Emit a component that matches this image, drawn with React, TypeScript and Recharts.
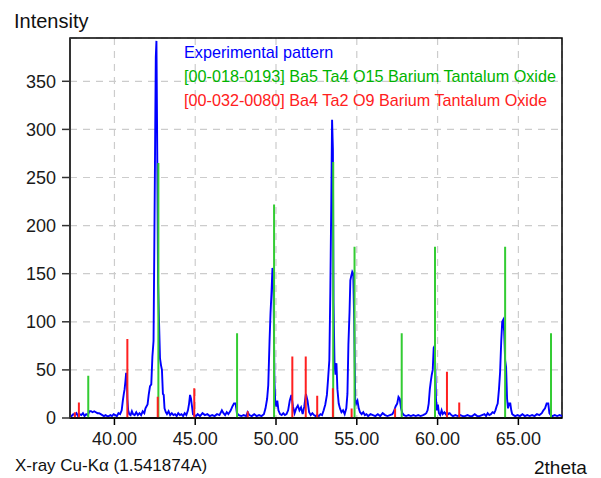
import React from 'react';
import { ComposedChart, Line, XAxis, YAxis, CartesianGrid, ReferenceArea } from 'recharts';

const xTicks = [40, 45, 50, 55, 60, 65];
const yTicks = [0, 50, 100, 150, 200, 250, 300, 350];
const xDomain: [number, number] = [37.25, 67.7];
const yDomain: [number, number] = [0, 395];

const seriesNames = [
  'Experimental pattern',
  '[00-018-0193] Ba5 Ta4 O15 Barium Tantalum Oxide',
  '[00-032-0080] Ba4 Ta2 O9 Barium Tantalum Oxide',
];

// [2theta, intensity]
const experimentalPattern: [number, number][] = [
  [37.25, 3], [37.35, 2], [37.45, 4], [37.55, 3], [37.65, 5], [37.75, 2], [37.85, 4], [37.95, 3],
  [38.05, 5], [38.15, 2], [38.25, 4], [38.35, 3], [38.45, 7], [38.55, 7], [38.65, 6], [38.75, 7],
  [38.85, 6], [38.95, 5], [39.05, 5], [39.15, 4], [39.25, 3], [39.35, 2], [39.45, 3], [39.55, 2],
  [39.65, 2], [39.75, 3], [39.85, 2], [39.95, 4], [40.05, 3], [40.15, 2], [40.25, 5], [40.35, 4],
  [40.45, 8], [40.52, 18], [40.58, 25], [40.63, 30], [40.68, 38], [40.72, 46], [40.76, 46], [40.8, 20],
  [40.85, 8], [40.92, 4], [41.0, 3], [41.08, 7], [41.15, 4], [41.25, 3], [41.35, 6], [41.45, 3],
  [41.55, 5], [41.65, 3], [41.75, 7], [41.85, 5], [41.92, 10], [41.98, 12], [42.05, 14], [42.12, 24],
  [42.2, 33], [42.28, 35], [42.35, 64], [42.42, 80], [42.47, 182], [42.52, 290], [42.56, 375], [42.6, 392],
  [42.64, 300], [42.7, 140], [42.76, 100], [42.82, 62], [42.88, 55], [42.94, 50], [43.0, 25], [43.05, 24],
  [43.1, 10], [43.18, 6], [43.25, 4], [43.35, 7], [43.45, 3], [43.55, 5], [43.65, 3], [43.75, 4],
  [43.85, 2], [43.95, 5], [44.05, 3], [44.15, 4], [44.25, 2], [44.35, 5], [44.45, 3], [44.55, 8],
  [44.62, 15], [44.68, 24], [44.74, 20], [44.8, 12], [44.86, 4], [44.95, 3], [45.05, 2], [45.15, 4],
  [45.3, 2], [45.45, 5], [45.6, 3], [45.75, 4], [45.9, 2], [46.05, 3], [46.2, 2], [46.35, 4],
  [46.5, 3], [46.65, 8], [46.75, 5], [46.85, 3], [46.95, 6], [47.05, 4], [47.2, 8], [47.3, 12],
  [47.4, 15], [47.5, 15], [47.58, 5], [47.7, 3], [47.85, 2], [48.0, 3], [48.15, 2], [48.25, 6],
  [48.35, 3], [48.5, 2], [48.65, 4], [48.8, 2], [48.95, 3], [49.1, 2], [49.25, 4], [49.35, 10],
  [49.45, 20], [49.52, 34], [49.6, 80], [49.66, 109], [49.72, 130], [49.78, 156], [49.84, 150], [49.9, 40],
  [49.95, 18], [50.02, 12], [50.08, 18], [50.15, 8], [50.25, 4], [50.35, 3], [50.45, 5], [50.55, 3],
  [50.65, 4], [50.75, 8], [50.85, 18], [50.95, 24], [51.05, 12], [51.15, 5], [51.25, 10], [51.35, 13],
  [51.45, 8], [51.55, 11], [51.65, 4], [51.75, 12], [51.85, 25], [51.95, 18], [52.05, 6], [52.15, 3],
  [52.25, 5], [52.35, 3], [52.45, 2], [52.55, 3], [52.65, 2], [52.75, 4], [52.85, 3], [52.95, 8],
  [53.05, 14], [53.15, 24], [53.22, 40], [53.3, 60], [53.36, 130], [53.42, 223], [53.47, 310], [53.52, 280],
  [53.56, 120], [53.62, 57], [53.68, 45], [53.74, 57], [53.8, 30], [53.88, 15], [53.96, 10], [54.05, 6],
  [54.15, 8], [54.25, 4], [54.35, 10], [54.42, 25], [54.48, 76], [54.55, 110], [54.6, 143], [54.66, 148],
  [54.72, 152], [54.78, 150], [54.84, 100], [54.9, 20], [54.96, 15], [55.04, 18], [55.12, 10], [55.2, 6],
  [55.3, 4], [55.4, 6], [55.5, 3], [55.6, 4], [55.7, 2], [55.85, 4], [56.0, 3], [56.15, 2],
  [56.3, 4], [56.45, 2], [56.6, 5], [56.75, 3], [56.9, 2], [57.05, 3], [57.2, 4], [57.3, 7],
  [57.4, 12], [57.5, 15], [57.58, 22], [57.66, 20], [57.74, 10], [57.82, 5], [57.92, 3], [58.05, 2],
  [58.2, 3], [58.35, 2], [58.5, 3], [58.65, 2], [58.8, 3], [58.95, 2], [59.1, 3], [59.22, 4],
  [59.3, 5], [59.38, 8], [59.45, 15], [59.52, 30], [59.58, 38], [59.64, 45], [59.7, 50], [59.76, 73],
  [59.82, 75], [59.86, 50], [59.9, 20], [59.96, 8], [60.02, 14], [60.08, 5], [60.16, 3], [60.25, 8],
  [60.32, 4], [60.42, 6], [60.5, 4], [60.58, 6], [60.66, 4], [60.75, 5], [60.85, 3], [60.95, 2],
  [61.1, 3], [61.25, 2], [61.4, 3], [61.55, 2], [61.7, 2], [61.85, 3], [62.0, 2], [62.15, 2],
  [62.3, 4], [62.45, 2], [62.6, 2], [62.75, 3], [62.9, 4], [63.0, 2], [63.1, 5], [63.2, 3],
  [63.3, 4], [63.4, 6], [63.5, 5], [63.58, 8], [63.65, 12], [63.72, 15], [63.8, 30], [63.87, 48],
  [63.94, 80], [64.0, 100], [64.06, 102], [64.12, 90], [64.18, 60], [64.24, 53], [64.3, 20], [64.36, 10],
  [64.42, 15], [64.5, 15], [64.56, 8], [64.62, 4], [64.7, 3], [64.8, 2], [64.95, 3], [65.1, 2],
  [65.25, 4], [65.4, 2], [65.55, 3], [65.7, 2], [65.85, 3], [66.0, 2], [66.15, 4], [66.3, 3],
  [66.45, 5], [66.55, 8], [66.65, 10], [66.75, 15], [66.85, 15], [66.92, 5], [67.0, 3], [67.1, 2],
  [67.25, 3], [67.4, 2], [67.55, 3], [67.7, 2],
];

// reference stick patterns [2theta, intensity]
const ba5ta4o15Sticks: [number, number][] = [
  [38.38, 44], [42.72, 265], [47.59, 88], [49.88, 222], [53.54, 266],
  [54.86, 178], [57.78, 88], [59.84, 178], [64.18, 178], [67.02, 88],
];
const ba4ta2o9Sticks: [number, number][] = [
  [37.55, 6], [37.8, 16], [40.8, 82], [42.68, 22], [44.94, 31], [48.25, 7], [51.01, 64],
  [51.84, 64], [52.55, 23], [53.52, 31], [54.68, 10], [57.37, 10], [60.58, 48], [61.34, 16],
];

const expData = experimentalPattern.map(([x, y]) => ({ x, y }));
const toSticks = (s: [number, number][]) =>
  s.flatMap(([x, h]) => [{ x, y: 0 }, { x, y: h }, { x, y: null as number | null }]);
const greenData = toSticks(ba5ta4o15Sticks);
const redData = toSticks(ba4ta2o9Sticks);

const FONT = '"Liberation Sans", Arial, sans-serif';
const BLUE = '#0000ff';
const GREEN = '#33cc33';
const RED = '#ff2020';

export default function App() {
  return (
    <div style={{ position: 'absolute', left: 0, top: 0, width: 601, height: 478, background: '#fff', fontFamily: FONT }}>
      <ComposedChart width={601} height={478} margin={{ top: 38, right: 39, bottom: 0, left: 0 }} style={{ fontFamily: FONT }}>
        <CartesianGrid stroke="#cccccc" strokeDasharray="7 6" strokeWidth={1.2} />
        <XAxis
          type="number"
          dataKey="x"
          domain={xDomain}
          ticks={xTicks}
          allowDataOverflow
          height={60}
          tickFormatter={(v: number) => v.toFixed(2)}
          tick={{ fontSize: 18, fill: '#1a1a1a', fontFamily: FONT }}
          tickSize={7}
          tickMargin={7}
          axisLine={{ stroke: '#000', strokeWidth: 1.5 }}
          tickLine={{ stroke: '#000', strokeWidth: 1.5 }}
        />
        <YAxis
          type="number"
          domain={yDomain}
          ticks={yTicks}
          allowDataOverflow
          width={70}
          tick={{ fontSize: 18, fill: '#1a1a1a', fontFamily: FONT }}
          tickSize={8}
          tickMargin={6}
          axisLine={{ stroke: '#333', strokeWidth: 2 }}
          tickLine={{ stroke: '#333', strokeWidth: 1.5 }}
        />
        <ReferenceArea x1={xDomain[0]} x2={xDomain[1]} y1={yDomain[0]} y2={yDomain[1]} fill="none" fillOpacity={0} stroke="#000" strokeWidth={1.5} ifOverflow="visible" />
        <Line data={expData} dataKey="y" name={seriesNames[0]} type="linear" stroke={BLUE} strokeWidth={1.9} dot={false} isAnimationActive={false} />
        <Line data={greenData} dataKey="y" name={seriesNames[1]} type="linear" stroke={GREEN} strokeWidth={2} dot={false} connectNulls={false} isAnimationActive={false} />
        <Line data={redData} dataKey="y" name={seriesNames[2]} type="linear" stroke={RED} strokeWidth={2} dot={false} connectNulls={false} isAnimationActive={false} />
      </ComposedChart>
      <svg width={601} height={478} style={{ position: 'absolute', left: 0, top: 0, pointerEvents: 'none' }}>
        <g fontFamily={FONT}>
          <text x={14} y={28} fontSize={20} fill="#111">Intensity</text>
          <text x={15} y={471} fontSize={17} fill="#111">X-ray Cu-Kα (1.541874A)</text>
          <text x={534} y={474} fontSize={19} fill="#111">2theta</text>
          <text x={184} y={58} fontSize={16.2} fill={BLUE}>{seriesNames[0]}</text>
          <text x={184} y={82} fontSize={16.2} fill="#00b400">{seriesNames[1]}</text>
          <text x={184} y={106} fontSize={16.2} fill={RED}>{seriesNames[2]}</text>
        </g>
      </svg>
    </div>
  );
}
